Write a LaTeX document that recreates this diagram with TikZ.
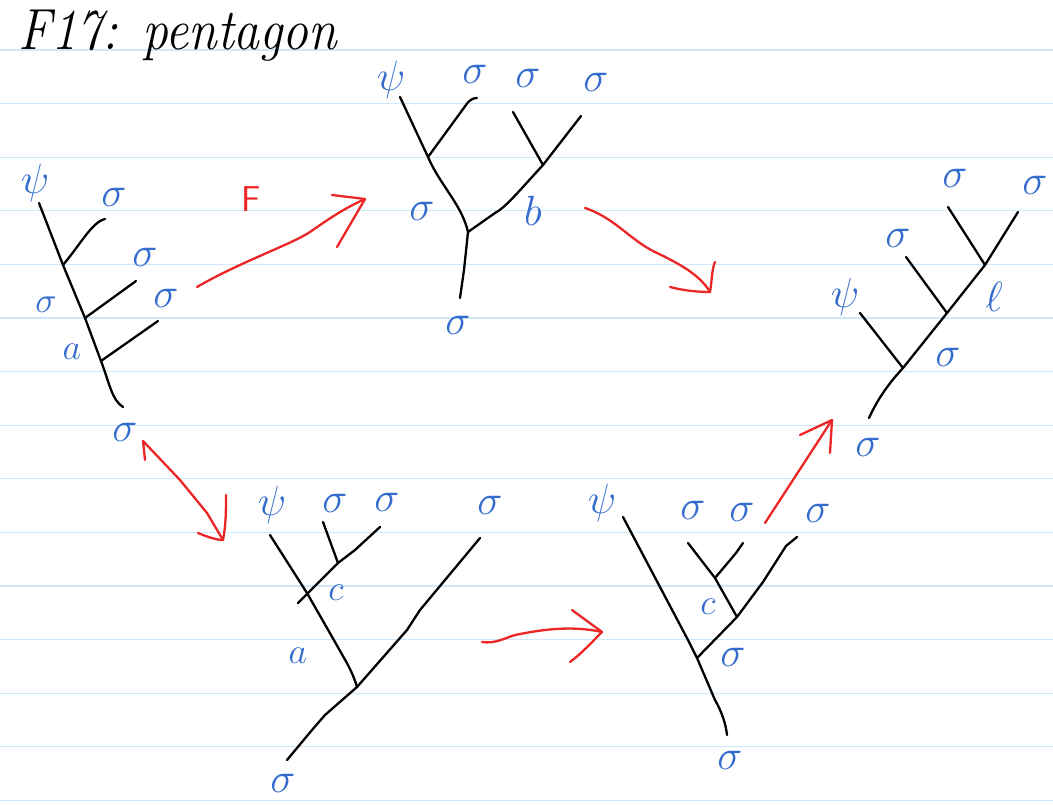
\documentclass[tikz,border=0pt]{standalone}
\usepackage{graphicx}
\usepackage{fontspec}
% math labels drawn larger than the math fonts' largest design size
\newcommand{\glab}[1]{\scalebox{1.7}{$#1$}}
\newcommand{\gsm}[1]{\scalebox{1.45}{$#1$}}
\begin{document}
\begin{tikzpicture}[x=1pt,y=-1pt,
  ruled/.style={draw=rulecol,line width=1.3pt},
  edge/.style={draw=black,line width=2.3pt,line cap=round,line join=round},
  move/.style={draw=movered,line width=2.3pt,line cap=round,line join=round},
  lab/.style={text=labblue,inner sep=0pt,font=\fontsize{24}{24}\selectfont},
  sm/.style={text=labblue,inner sep=0pt,font=\fontsize{24}{24}\selectfont}]
\definecolor{rulecol}{RGB}{205,232,250}
\definecolor{movered}{RGB}{236,38,38}
\definecolor{labblue}{RGB}{52,108,205}
\useasboundingbox (0,0) rectangle (1053,805);
\fill[white] (0,0) rectangle (1053,805);
% ruled notebook paper
\foreach \k in {0,...,14} \draw[ruled] (0,50+53.6*\k) -- (1053,50+53.6*\k);
% title
\node[anchor=west,inner sep=0pt,font=\fontsize{58}{58}\selectfont\itshape,xscale=0.89] (title) at (18,36) {F17: pentagon};

% ---------- tree 1 (left) ----------
\coordinate (t1top) at (39,203);
\coordinate (t1j1) at (63,265);
\coordinate (t1j2) at (85,318);
\coordinate (t1j3) at (101,361);
\coordinate (t1bot) at (123,407);
\coordinate (t1l1) at (105,219);
\coordinate (t1l2) at (136,281);
\coordinate (t1l3) at (158,321);
\draw[edge] (t1top) -- (t1j1) -- (t1j2) -- (t1j3) .. controls (110,385) and (112,400) .. (t1bot);
\draw[edge] (t1j1) .. controls (80,245) and (92,222) .. (t1l1);
\draw[edge] (t1j2) -- (t1l2);
\draw[edge] (t1j3) -- (t1l3);
\node[lab] (t1psi) at (35,183) {\glab{\psi}};
\node[lab] (t1s1) at (114,197) {\glab{\sigma}};
\node[lab] (t1s2) at (145,257) {\glab{\sigma}};
\node[lab] (t1s3) at (166,298) {\glab{\sigma}};
\node[sm] (t1s4) at (46,305) {\gsm{\sigma}};
\node[sm] (t1a) at (72,352) {\gsm{a}};
\node[lab] (t1s5) at (125,432) {\glab{\sigma}};

% ---------- tree 2 (top) ----------
\coordinate (t2l1) at (400,97);
\coordinate (t2ja) at (428,157);
\coordinate (t2l2) at (477,98);
\coordinate (t2l3) at (513,112);
\coordinate (t2l4) at (581,116);
\coordinate (t2jb) at (543,165);
\coordinate (t2jc) at (468,232);
\coordinate (t2bot) at (460,298);
\draw[edge] (t2l1) -- (t2ja) .. controls (440,185) and (462,205) .. (t2jc);
\draw[edge] (t2ja) -- (466,105) .. controls (470,99) and (474,98) .. (t2l2);
\draw[edge] (t2l3) -- (t2jb);
\draw[edge] (t2l4) -- (t2jb) .. controls (520,190) and (505,208) .. (495,213) -- (t2jc);
\draw[edge] (t2jc) -- (464,270) -- (t2bot);
\node[lab] (t2psi) at (391,80) {\glab{\psi}};
\node[lab] (t2s1) at (475,74) {\glab{\sigma}};
\node[lab] (t2s2) at (528,78) {\glab{\sigma}};
\node[lab] (t2s3) at (596,82) {\glab{\sigma}};
\node[lab] (t2s4) at (422,211) {\glab{\sigma}};
\node[lab] (t2b) at (533,211) {\glab{b}};
\node[lab] (t2s5) at (458,325) {\glab{\sigma}};

% ---------- tree 3 (right) ----------
\coordinate (t3top) at (1018,212);
\coordinate (t3j1) at (985,265);
\coordinate (t3j2) at (947,313);
\coordinate (t3j3) at (903,368);
\coordinate (t3bot) at (869,418);
\coordinate (t3l1) at (948,207);
\coordinate (t3l2) at (906,257);
\coordinate (t3l3) at (860,313);
\draw[edge] (t3top) -- (t3j1) -- (t3j2) -- (t3j3) .. controls (890,382) and (878,398) .. (t3bot);
\draw[edge] (t3l1) -- (t3j1);
\draw[edge] (t3l2) -- (t3j2);
\draw[edge] (t3l3) -- (t3j3);
\node[lab] (t3s1) at (955,178) {\glab{\sigma}};
\node[lab] (t3s2) at (1035,185) {\glab{\sigma}};
\node[lab] (t3s3) at (898,238) {\glab{\sigma}};
\node[lab] (t3psi) at (845,297) {\glab{\psi}};
\node[lab] (t3l) at (994,297) {\glab{\ell}};
\node[lab] (t3s4) at (948,357) {\glab{\sigma}};
\node[lab] (t3s5) at (868,447) {\glab{\sigma}};

% ---------- tree 4 (bottom middle) ----------
\coordinate (t4l1) at (270,535);
\coordinate (t4x) at (307,593);
\coordinate (t4ja) at (357,687);
\coordinate (t4l2) at (323,522);
\coordinate (t4jc) at (338,563);
\coordinate (t4l3) at (380,527);
\coordinate (t4end) at (298,603);
\coordinate (t4l4) at (480,538);
\coordinate (t4bot) at (287,760);
\draw[edge] (t4l1) -- (t4x) -- (335,642) .. controls (345,660) and (352,670) .. (t4ja);
\draw[edge] (t4l2) -- (t4jc);
\draw[edge] (t4l3) -- (355,550) -- (t4jc) -- (t4end);
\draw[edge] (t4l4) -- (420,610) -- (407,630) -- (t4ja);
\draw[edge] (t4ja) -- (325,715) -- (312,730) -- (t4bot);
\node[lab] (t4psi) at (272,505) {\glab{\psi}};
\node[lab] (t4s1) at (335,503) {\glab{\sigma}};
\node[lab] (t4s2) at (387,502) {\glab{\sigma}};
\node[lab] (t4s3) at (490,505) {\glab{\sigma}};
\node[sm] (t4c) at (336,593) {\gsm{c}};
\node[sm] (t4a) at (298,656) {\gsm{a}};
\node[lab] (t4s4) at (283,783) {\glab{\sigma}};

% ---------- tree 5 (bottom right) ----------
\coordinate (t5l1) at (623,517);
\coordinate (t5jr) at (697,658);
\coordinate (t5bot) at (727,735);
\coordinate (t5l2) at (688,543);
\coordinate (t5ja) at (715,578);
\coordinate (t5l3) at (743,543);
\coordinate (t5jb) at (737,617);
\coordinate (t5l4) at (797,537);
\draw[edge] (t5l1) -- (688,640) -- (t5jr) -- (715,700) .. controls (722,712) and (726,725) .. (t5bot);
\draw[edge] (t5l2) -- (t5ja) -- (t5jb);
\draw[edge] (t5l3) -- (736,553) -- (t5ja);
\draw[edge] (t5l4) -- (786,546) -- (763,582) -- (t5jb) -- (t5jr);
\node[lab] (t5psi) at (602,503) {\glab{\psi}};
\node[lab] (t5s1) at (693,510) {\glab{\sigma}};
\node[lab] (t5s2) at (742,512) {\glab{\sigma}};
\node[lab] (t5s3) at (818,513) {\glab{\sigma}};
\node[sm] (t5c) at (708,607) {\gsm{c}};
\node[lab] (t5s4) at (733,657) {\glab{\sigma}};
\node[lab] (t5s5) at (730,760) {\glab{\sigma}};

% ---------- moves between the trees ----------
% F move: left tree to top tree
\coordinate (m1s) at (197,287);
\coordinate (m1t) at (365,199);
\draw[move] (m1s) .. controls (240,262) and (290,245) .. (310,232) .. controls (330,218) and (345,208) .. (m1t);
\draw[move] (332,195) -- (m1t) -- (337,247);
\node[text=movered,inner sep=0pt,font=\fontsize{36}{36}\selectfont\sffamily] (Flab) at (251,199) {F};
% top tree to right tree
\coordinate (m2s) at (585,208);
\coordinate (m2t) at (710,292);
\draw[move] (m2s) .. controls (615,218) and (630,240) .. (655,252) .. controls (680,264) and (700,275) .. (m2t);
\draw[move] (670,287) .. controls (685,291) and (700,292) .. (m2t) .. controls (712,280) and (712,268) .. (715,262);
% left tree to bottom tree
\coordinate (m3s) at (145,460);
\coordinate (m3t) at (223,540);
\draw[move] (m3s) -- (143,441) -- (180,480) -- (207,513) -- (m3t);
\draw[move] (198,533) .. controls (210,538) and (218,540) .. (m3t) .. controls (226,525) and (226,510) .. (226,495);
% bottom tree to bottom-right tree
\coordinate (m4s) at (482,642);
\coordinate (m4t) at (602,632);
\draw[move] (m4s) .. controls (495,644) and (505,638) .. (515,635) .. controls (540,630) and (570,625) .. (m4t);
\draw[move] (572,610) -- (m4t) .. controls (592,642) and (580,655) .. (570,662);
% bottom-right tree to right tree
\coordinate (m5s) at (765,523);
\coordinate (m5t) at (832,420);
\draw[move] (m5s) -- (m5t);
\draw[move] (800,435) -- (m5t) -- (830,453);
\end{tikzpicture}
\end{document}
